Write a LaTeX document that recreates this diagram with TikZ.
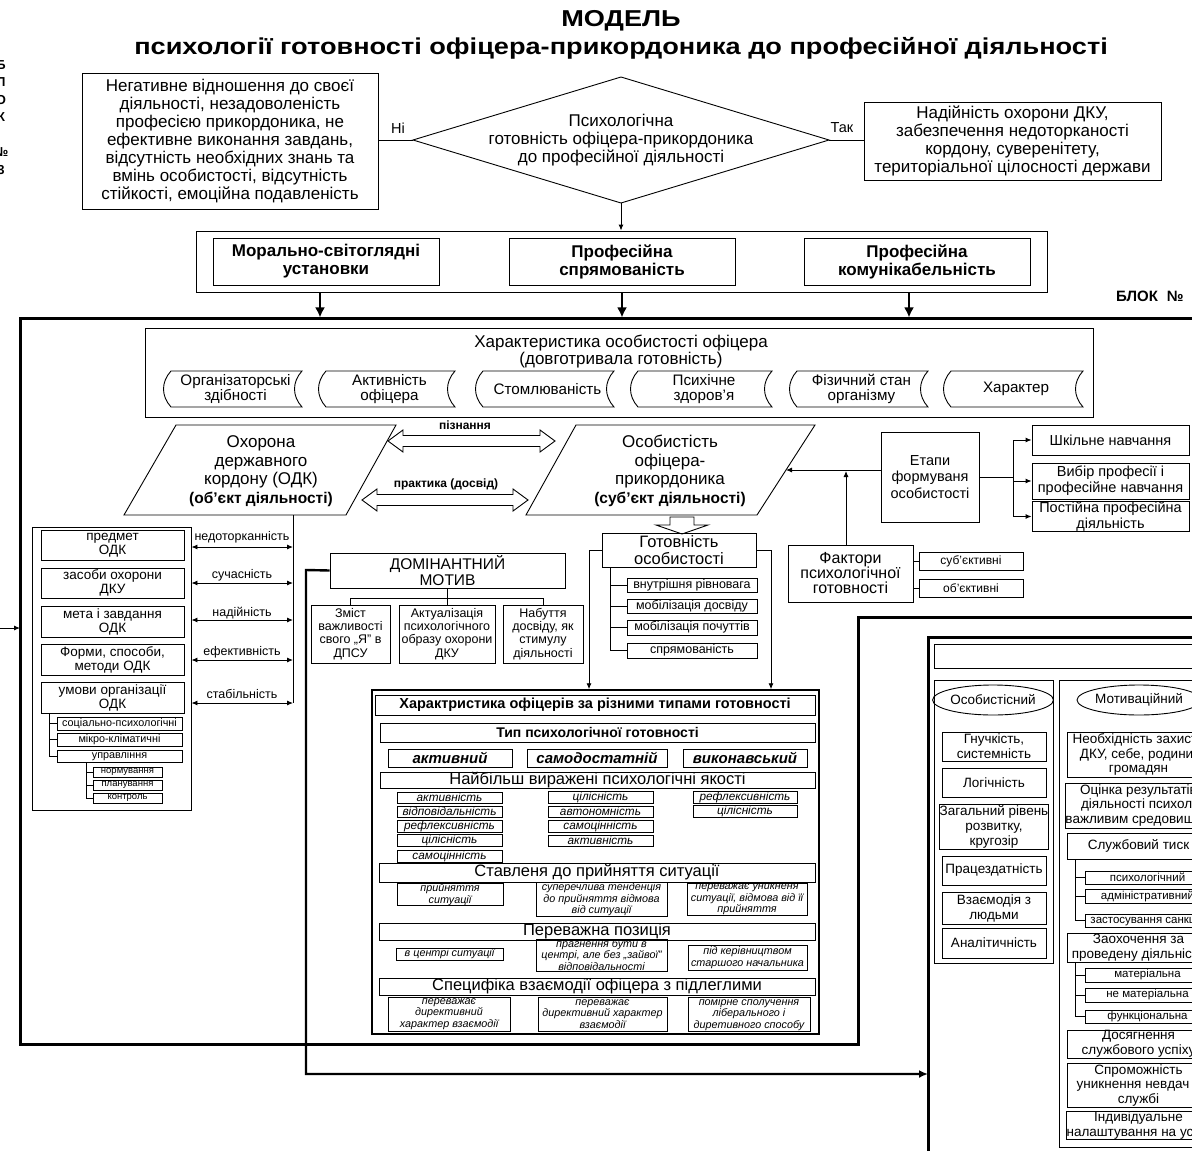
\documentclass[tikz,border=0pt]{standalone}
\usepackage{fontspec}
\setmainfont{Liberation Sans}
\newfontfamily\titlefont[FakeStretch=1.18]{Liberation Sans}
\usetikzlibrary{arrows.meta,shapes.geometric}
\newcommand\fz[2]{\fontsize{#1}{#2}\selectfont}
% rectangular box given by its corners (x1,y1)-(x2,y2)
\newcommand\bx[7][]{\node[box,minimum width={#5-#3},minimum height={#6-#4},#1] (#2) at ({(#3+#5)/2},{(#4+#6)/2}) {#7};}
% "stored data" plate with curved sides
\newcommand\plate[6]{%
  \draw[thinline] ({#2+8},#3) -- (#4,#3) .. controls ({#4-10},{#3+11}) and ({#4-10},{#5-11}) .. (#4,#5)
    -- ({#2+8},#5) .. controls ({#2-2},{#5-11}) and ({#2-2},{#3+11}) .. ({#2+8},#3) -- cycle;
  \node[tx,font=\fz{15.2}{15}] (#1) at ({(#2+#4)/2+3},{(#3+#5)/2}) {#6};}
% hollow two-headed arrow
\newcommand\hollow[4]{%
  \draw[thinline,fill=white] (#2,#4) -- ({#2+15},{#4-11}) -- ({#2+15},{#4-5.5}) -- ({#3-15},{#4-5.5}) -- ({#3-15},{#4-11}) -- (#3,#4) -- ({#3-15},{#4+11}) -- ({#3-15},{#4+5.5}) -- ({#2+15},{#4+5.5}) -- ({#2+15},{#4+11}) -- cycle;
  \coordinate (#1) at ({(#2+#3)/2},#4);}
\tikzset{
  thinline/.style={line width=0.9pt},
  box/.style={draw,thinline,inner sep=0.5pt,align=center,font=\fz{13}{15}},
  tx/.style={align=center,inner sep=0pt},
  arr/.style={thinline,-{Latex[length=6pt,width=5pt]}},
  darr/.style={thinline,{Latex[length=6pt,width=5pt]}-{Latex[length=6pt,width=5pt]}},
  barr/.style={line width=2.6pt,-{Latex[length=10pt,width=10pt]}},
  frame/.style={line width=3pt,line join=miter},
  qual/.style={font=\fz{11.8}{12}\itshape},
  sit/.style={font=\fz{10.8}{11.5}\itshape},
  hdr/.style={font=\fz{16.5}{17},text height=11pt,text depth=3pt},
  main/.style={font=\fz{17}{18}},
}
\begin{document}
\begin{tikzpicture}[x=1pt,y=-1pt]
\useasboundingbox (0,0) rectangle (1192,1151);

% ---------- title ----------
\node[tx,font=\fz{23}{26}\titlefont\bfseries] (t1) at (621,21) {МОДЕЛЬ};
\node[tx,font=\fz{23}{26}\titlefont\bfseries] (t2) at (621,48) {психології готовності офіцера-прикордоника до професійної діяльності};

% vertical block label at the left edge
\node[tx,font=\fz{13}{17.5}\bfseries] (blk3) at (1,117.5) {Б\\Л\\О\\К\\\mbox{}\\№\\3};

% ---------- decision ----------
\bx[main]{neg}{82}{73}{378}{209}{Негативне відношення до своєї\\діяльності, незадоволеність\\професією прикордоника, не\\ефективне виконання завдань,\\відсутність необхідних знань та\\вмінь особистості, відсутність\\стійкості, емоційна подавленість}
\coordinate (dL) at (413,140);
\coordinate (dT) at (621,77);
\coordinate (dR) at (829,140);
\coordinate (dB) at (621,203);
\draw[thinline] (dL) -- (dT) -- (dR) -- (dB) -- cycle;
\node[tx,main] (dec) at (621,140) {Психологічна\\готовність офіцера-прикордоника\\до професійної діяльності};
\bx[main]{yes}{864}{102}{1161}{180}{Надійність охорони ДКУ,\\забезпечення недоторканості\\кордону, суверенітету,\\територіальної цілосності держави}
\draw[thinline] (neg.east |- dL) -- (dL);
\draw[thinline] (dR) -- (yes.west |- dR);
\node[tx,font=\fz{14.5}{16}] (no) at (398,128) {Ні};
\node[tx,font=\fz{14.5}{16}] (so) at (842,128) {Так};

% ---------- three components ----------
\bx{grp}{196}{231}{1047}{292}{}
\draw[arr] (dB) -- (grp.north -| dB);
\bx[font=\fz{17}{18}\bfseries]{m1}{213}{238}{439}{285}{Морально-світоглядні\\установки}
\bx[font=\fz{17}{18}\bfseries]{m2}{509}{238}{735}{285}{Професійна\\спрямованість}
\bx[font=\fz{17}{18}\bfseries]{m3}{804}{238}{1030}{285}{Професійна\\комунікабельність}
\draw[barr] ([xshift=-6pt]grp.south -| m1.south) -- ++(0,25);
\draw[barr] (grp.south -| m2.south) -- ++(0,25);
\draw[barr] ([xshift=-8pt]grp.south -| m3.south) -- ++(0,25);
\node[tx,anchor=west,font=\fz{15}{16}\bfseries] (blk2) at (1116,296) {БЛОК\hspace{9pt}№};

% ---------- main block frame ----------
\draw[frame] (1200,318) -- (20,318) -- (20,1044) -- (858,1044) -- (858,617) -- (1200,617);
\coordinate (inL) at (20,628);
\draw[arr] (-2,628) -- (inL);

% personality characteristics
\bx{char}{145}{328}{1093}{417}{}
\node[tx,font=\fz{17}{17.5}] (chart) at (621,351.5) {Характеристика особистості офіцера\\(довготривала готовність)};
\plate{c1}{163}{371}{302}{407}{Організаторські\\здібності}
\plate{c2}{318}{371}{455}{407}{Активність\\офіцера}
\plate{c3}{475}{371}{614}{407}{Стомлюваність}
\plate{c4}{630}{371}{772}{407}{Психічне\\здоров’я}
\plate{c5}{789}{371}{928}{407}{Фізичний стан\\організму}
\plate{c6}{943}{371}{1083}{407}{Характер}

% object and subject
\draw[thinline] (176,425) -- (396,425) -- (346,515) -- (124,515) -- cycle;
\node[tx,font=\fz{17}{18.5}] (obj) at (261,471) {Охорона\\державного\\кордону (ОДК)\\{\fz{15.5}{18.5}\bfseries(об’єкт діяльності)}};
\draw[thinline] (576,425) -- (815,425) -- (757,515) -- (526,515) -- cycle;
\node[tx,font=\fz{17}{18.5}] (subj) at (670,471) {Особистість\\офіцера-\\прикордоника\\{\fz{15.5}{18.5}\bfseries(суб’єкт діяльності)}};
\hollow{ha}{388}{555}{441}
\node[tx,font=\fz{12}{13}\bfseries] (hal) at (465,425) {пізнання};
\hollow{hb}{362}{528}{500}
\node[tx,font=\fz{12}{13}\bfseries] (hbl) at (446,484) {практика (досвід)};
\draw[thinline, fill=white] (670,517) -- (694,517) -- (694,525) -- (708,525) -- (682,534) -- (656,525) -- (670,525) -- cycle;

% stages of formation
\bx[font=\fz{14.5}{16.5}]{et}{881}{432}{979}{522}{Етапи\\формуваня\\особистості}
\coordinate (subjR) at (786,470);
\draw[arr] (et.west |- subjR) -- (subjR);
\bx[font=\fz{14.5}{16}]{e1}{1032}{425}{1189}{455}{Шкільне навчання}
\bx[font=\fz{14.5}{16}]{e2}{1032}{463}{1189}{499}{Вибір професії і\\професійне навчання}
\bx[font=\fz{14.5}{16}]{e3}{1032}{503}{1189}{530}{Постійна професійна\\діяльність}
\coordinate (etj) at (1013,477);
\draw[thinline] (et.east |- etj) -- (etj);
\draw[thinline] (1013,440) -- (1013,516.5);
\draw[arr] (1013,440) -- (e1.west);
\draw[arr] (1013,481) -- (e2.west);
\draw[arr] (1013,516.5) -- (e3.west);

% factors
\bx[font=\fz{16}{15}]{fa}{788}{545}{913}{602}{Фактори\\психологічної\\готовності}
\bx[font=\fz{12}{14}]{f1}{919}{552}{1023}{570}{суб’єктивні}
\bx[font=\fz{12}{14}]{f2}{919}{579}{1023}{597}{об’єктивні}
\draw[thinline] (fa.east |- f1) -- (f1.west);
\draw[thinline] (fa.east |- f2) -- (f2.west);
\draw[arr] (fa.north -| 846,0) -- (846,471);

% object of activity: components
\coordinate (v0) at (293,515);
\coordinate (v5) at (293,703);
\draw[thinline] (v0) -- (v5);
\bx{odk}{32}{527}{191}{810}{}
\bx[font=\fz{13.5}{14}]{p1}{41}{530}{184}{560}{предмет\\ОДК}
\bx[font=\fz{13.5}{14}]{p2}{41}{568}{184}{598}{засоби охорони\\ДКУ}
\bx[font=\fz{13.5}{14}]{p3}{41}{606}{184}{637}{мета і завдання\\ОДК}
\bx[font=\fz{13.5}{14}]{p4}{41}{644}{184}{675}{Форми, способи,\\методи ОДК}
\bx[font=\fz{13.5}{14}]{p5}{41}{682}{184}{713}{умови організації\\ОДК}
\coordinate (v1) at (293,547);
\coordinate (v2) at (293,583);
\coordinate (v3) at (293,620);
\coordinate (v4) at (293,660);
\draw[darr] (odk.east |- v1) -- (v1);
\draw[darr] (odk.east |- v2) -- (v2);
\draw[darr] (odk.east |- v3) -- (v3);
\draw[darr] (odk.east |- v4) -- (v4);
\draw[darr] (odk.east |- v5) -- (v5);
\node[tx,font=\fz{12.5}{13}] (l1) at (242,537) {недоторканність};
\node[tx,font=\fz{12.5}{13}] (l2) at (242,575) {сучасність};
\node[tx,font=\fz{12.5}{13}] (l3) at (242,613) {надійність};
\node[tx,font=\fz{12.5}{13}] (l4) at (242,652) {ефективність};
\node[tx,font=\fz{12.5}{13}] (l5) at (242,694) {стабільність};
\bx[font=\fz{10.8}{12}]{s1}{57}{717}{182}{730}{соціально-психологічні}
\bx[font=\fz{10.8}{12}]{s2}{57}{733}{182}{746}{мікро-кліматичні}
\bx[font=\fz{10.8}{12}]{s3}{57}{750}{182}{762}{управління}
\draw[thinline] (49,713) -- (49,756) (49,723.5) -- (s1.west) (49,739.5) -- (s2.west) (49,756) -- (s3.west);
\bx[font=\fz{9.5}{11}]{ss1}{93}{767}{162}{777}{нормування}
\bx[font=\fz{9.5}{11}]{ss2}{93}{780}{162}{790}{планування}
\bx[font=\fz{9.5}{11}]{ss3}{93}{793}{162}{803}{контроль}
\draw[thinline] (86,762) -- (86,798) (86,772) -- (ss1.west) (86,785) -- (ss2.west) (86,798) -- (ss3.west);

% dominant motive
\bx[font=\fz{15.5}{16.5}]{dm}{330}{553}{565}{588}{ДОМІНАНТНИЙ\\МОТИВ}
\bx[font=\fz{12.5}{13.3}]{d1}{311}{605}{390}{663}{Зміст\\важливості\\свого „Я” в\\ДПСУ}
\bx[font=\fz{12.5}{13.3}]{d2}{399}{605}{495}{663}{Актуалізація\\психологічного\\образу охорони\\ДКУ}
\bx[font=\fz{12.5}{13.3}]{d3}{503}{605}{583}{663}{Набуття\\досвіду, як\\стимулу\\діяльності}
\draw[thinline] (dm.south -| d2) -- (447,598) (d1.north |- 0,598) -- (d3.north |- 0,598)
  (d1.north |- 0,598) -- (d1.north) (d2.north |- 0,598) -- (d2.north) (d3.north |- 0,598) -- (d3.north);
\coordinate (b3in) at (928,1074);
\draw[line width=2.4pt,-{Latex[length=9pt,width=8pt]}] (dm.west) -- (306,570) -- (306,1074) -- (b3in);

% readiness of personality
\bx[font=\fz{16.5}{16.5}]{gt}{602}{533}{756}{567}{Готовність\\особистості}
\bx[font=\fz{12.5}{13}]{g1}{627}{578}{757}{592}{внутрішня рівновага}
\bx[font=\fz{12.5}{13}]{g2}{627}{599}{757}{613}{мобілізація досвіду}
\bx[font=\fz{12.5}{13}]{g3}{627}{620}{757}{635}{мобілізація почуттів}
\bx[font=\fz{12.5}{13}]{g4}{627}{643}{757}{658}{спрямованість}
\draw[thinline] (610,567) -- (610,650.5) (610,585) -- (g1.west) (610,606) -- (g2.west) (610,627.5) -- (g3.west) (610,650.5) -- (g4.west);

% ---------- table of readiness types ----------
\bx[line width=1.5pt]{tb}{372}{690}{819}{1034}{}
\draw[arr] (gt.west) -- (589,550) -- (tb.north -| 589,0);
\draw[arr] (gt.east) -- (771,550) -- (tb.north -| 771,0);
\bx[font=\fz{14.5}{15}\bfseries]{h1}{375}{695}{815}{715}{Характристика офіцерів за різними типами готовності}
\bx[font=\fz{14}{15}\bfseries]{h2}{380}{723}{815}{742}{Тип психологічної готовності}
\bx[font=\fz{15}{16}\bfseries\itshape]{k1}{388}{749}{512}{767}{активний}
\bx[font=\fz{15}{16}\bfseries\itshape]{k2}{527}{749}{667}{767}{самодостатній}
\bx[font=\fz{15}{16}\bfseries\itshape]{k3}{683}{749}{807}{767}{виконавський}
\bx[hdr]{h3}{380}{772}{815}{788}{Найбільш виражені психологічні якості}
\bx[qual]{q11}{397}{792}{502}{803}{активність}
\bx[qual]{q12}{397}{806}{502}{817}{відповідальність}
\bx[qual]{q13}{397}{820}{502}{832}{рефлексивність}
\bx[qual]{q14}{397}{835}{502}{846}{цілісність}
\bx[qual]{q15}{397}{850}{502}{862}{самоцінність}
\bx[qual]{q21}{548}{792}{653}{803}{цілісність}
\bx[qual]{q22}{548}{806}{653}{817}{автономність}
\bx[qual]{q23}{548}{820}{653}{832}{самоцінність}
\bx[qual]{q24}{548}{835}{653}{846}{активність}
\bx[qual]{q31}{693}{792}{797}{803}{рефлексивність}
\bx[qual]{q32}{693}{806}{797}{817}{цілісність}
\bx[hdr]{h4}{379}{863}{815}{882}{Ставленя до прийняття ситуації}
\bx[sit]{a1}{397}{885}{503}{904}{прийняття\\ситуації}
\bx[sit]{a2}{536}{885}{667}{914}{суперечлива тенденція\\до прийняття відмова\\від ситуації}
\bx[sit]{a3}{687}{885}{807}{914}{переважає уникненя\\ситуації, відмова від її\\прийняття}
\bx[hdr]{h5}{379}{923}{815}{940}{Переважна позиція}
\bx[sit]{r1}{396}{948}{503}{960}{в центрі ситуації}
\bx[sit]{r2}{536}{942}{667}{968}{прагнення бути в\\центрі, але без „зайвої”\\відповідальності}
\bx[sit]{r3}{688}{945}{807}{970}{під керівництвом\\старшого начальника}
\bx[hdr]{h6}{379}{978}{815}{995}{Специфіка взаємодії офіцера з підлеглими}
\bx[sit]{w1}{388}{997}{510}{1031}{переважає\\директивний\\характер взаємодії}
\bx[sit]{w2}{538}{997}{667}{1031}{переважає\\директивний характер\\взаємодії}
\bx[sit]{w3}{688}{997}{810}{1031}{помірне сполучення\\ліберального і\\диретивного способу}

% ---------- second block ----------
\draw[frame] (1200,637) -- (928,637) -- (928,1160);
\bx{b3t}{934}{644}{1200}{668}{}
\bx{ca}{934}{680}{1053}{963}{}
\node[draw,thinline,ellipse,minimum width=106,minimum height=30,inner sep=0pt,font=\fz{13.5}{15}] (ea) at (993,700) {Особистісний};
\bx[font=\fz{13.5}{15}]{a1b}{942}{732}{1046}{761}{Гнучкість,\\системність}
\bx[font=\fz{13.5}{15}]{a2b}{942}{768}{1046}{797}{Логічність}
\bx[font=\fz{13.5}{15}]{a3b}{942}{804}{1046}{849}{Загальний рівень\\розвитку,\\кругозір}
\bx[font=\fz{13.5}{15}]{a4b}{942}{856}{1046}{885}{Працездатність}
\bx[font=\fz{13.5}{15}]{a5b}{942}{892}{1046}{924}{Взаємодія з\\людьми}
\bx[font=\fz{13.5}{15}]{a6b}{942}{928}{1046}{958}{Аналітичність}
\bx{cb}{1059}{680}{1215}{1147}{}
\node[draw,thinline,ellipse,minimum width=106,minimum height=30,inner sep=0pt,font=\fz{13.5}{15}] (eb) at (1139,700) {Мотиваційний};
\bx[font=\fz{13.5}{14.5},inner sep=0pt]{b1}{1067}{732}{1210}{777}{Необхідність захисту\\ДКУ, себе, родини,\\громадян}
\bx[font=\fz{13.5}{14.5},inner sep=0pt]{b2}{1067}{783}{1210}{828}{Оцінка результатів\\діяльності психол.\\важливим средовищем}
\bx[font=\fz{13.5}{15}]{b3}{1067}{833}{1210}{859}{Службовий тиск}
\bx[font=\fz{11.5}{13}]{b31}{1085}{871}{1210}{884}{психологічний}
\bx[font=\fz{11.5}{13}]{b32}{1085}{889}{1210}{903}{адміністративний}
\bx[font=\fz{11.5}{13}]{b33}{1085}{914}{1210}{927}{застосування санкцій}
\draw[thinline] (1075,859) -- (1075,920.5) (1075,877.5) -- (b31.west) (1075,896) -- (b32.west) (1075,920.5) -- (b33.west);
\bx[font=\fz{13.5}{15}]{b4}{1067}{933}{1210}{962}{Заохочення за\\проведену діяльність}
\bx[font=\fz{11.5}{13}]{b41}{1085}{968}{1210}{982}{матеріальна}
\bx[font=\fz{11.5}{13}]{b42}{1085}{988}{1210}{1002}{не матеріальна}
\bx[font=\fz{11.5}{13}]{b43}{1085}{1010}{1210}{1023}{функціональна}
\draw[thinline] (1075,962) -- (1075,1016.5) (1075,975) -- (b41.west) (1075,995) -- (b42.west) (1075,1016.5) -- (b43.west);
\bx[font=\fz{13.5}{15}]{b5}{1067}{1030}{1210}{1058}{Досягнення\\службового успіху}
\bx[font=\fz{13.5}{14.5}]{b6}{1067}{1063}{1210}{1107}{Спроможність\\уникнення невдач в\\службі}
\bx[font=\fz{13.5}{15}]{b7}{1067}{1112}{1210}{1139}{Індивідуальне\\налаштування на успіх}
\end{tikzpicture}
\end{document}
